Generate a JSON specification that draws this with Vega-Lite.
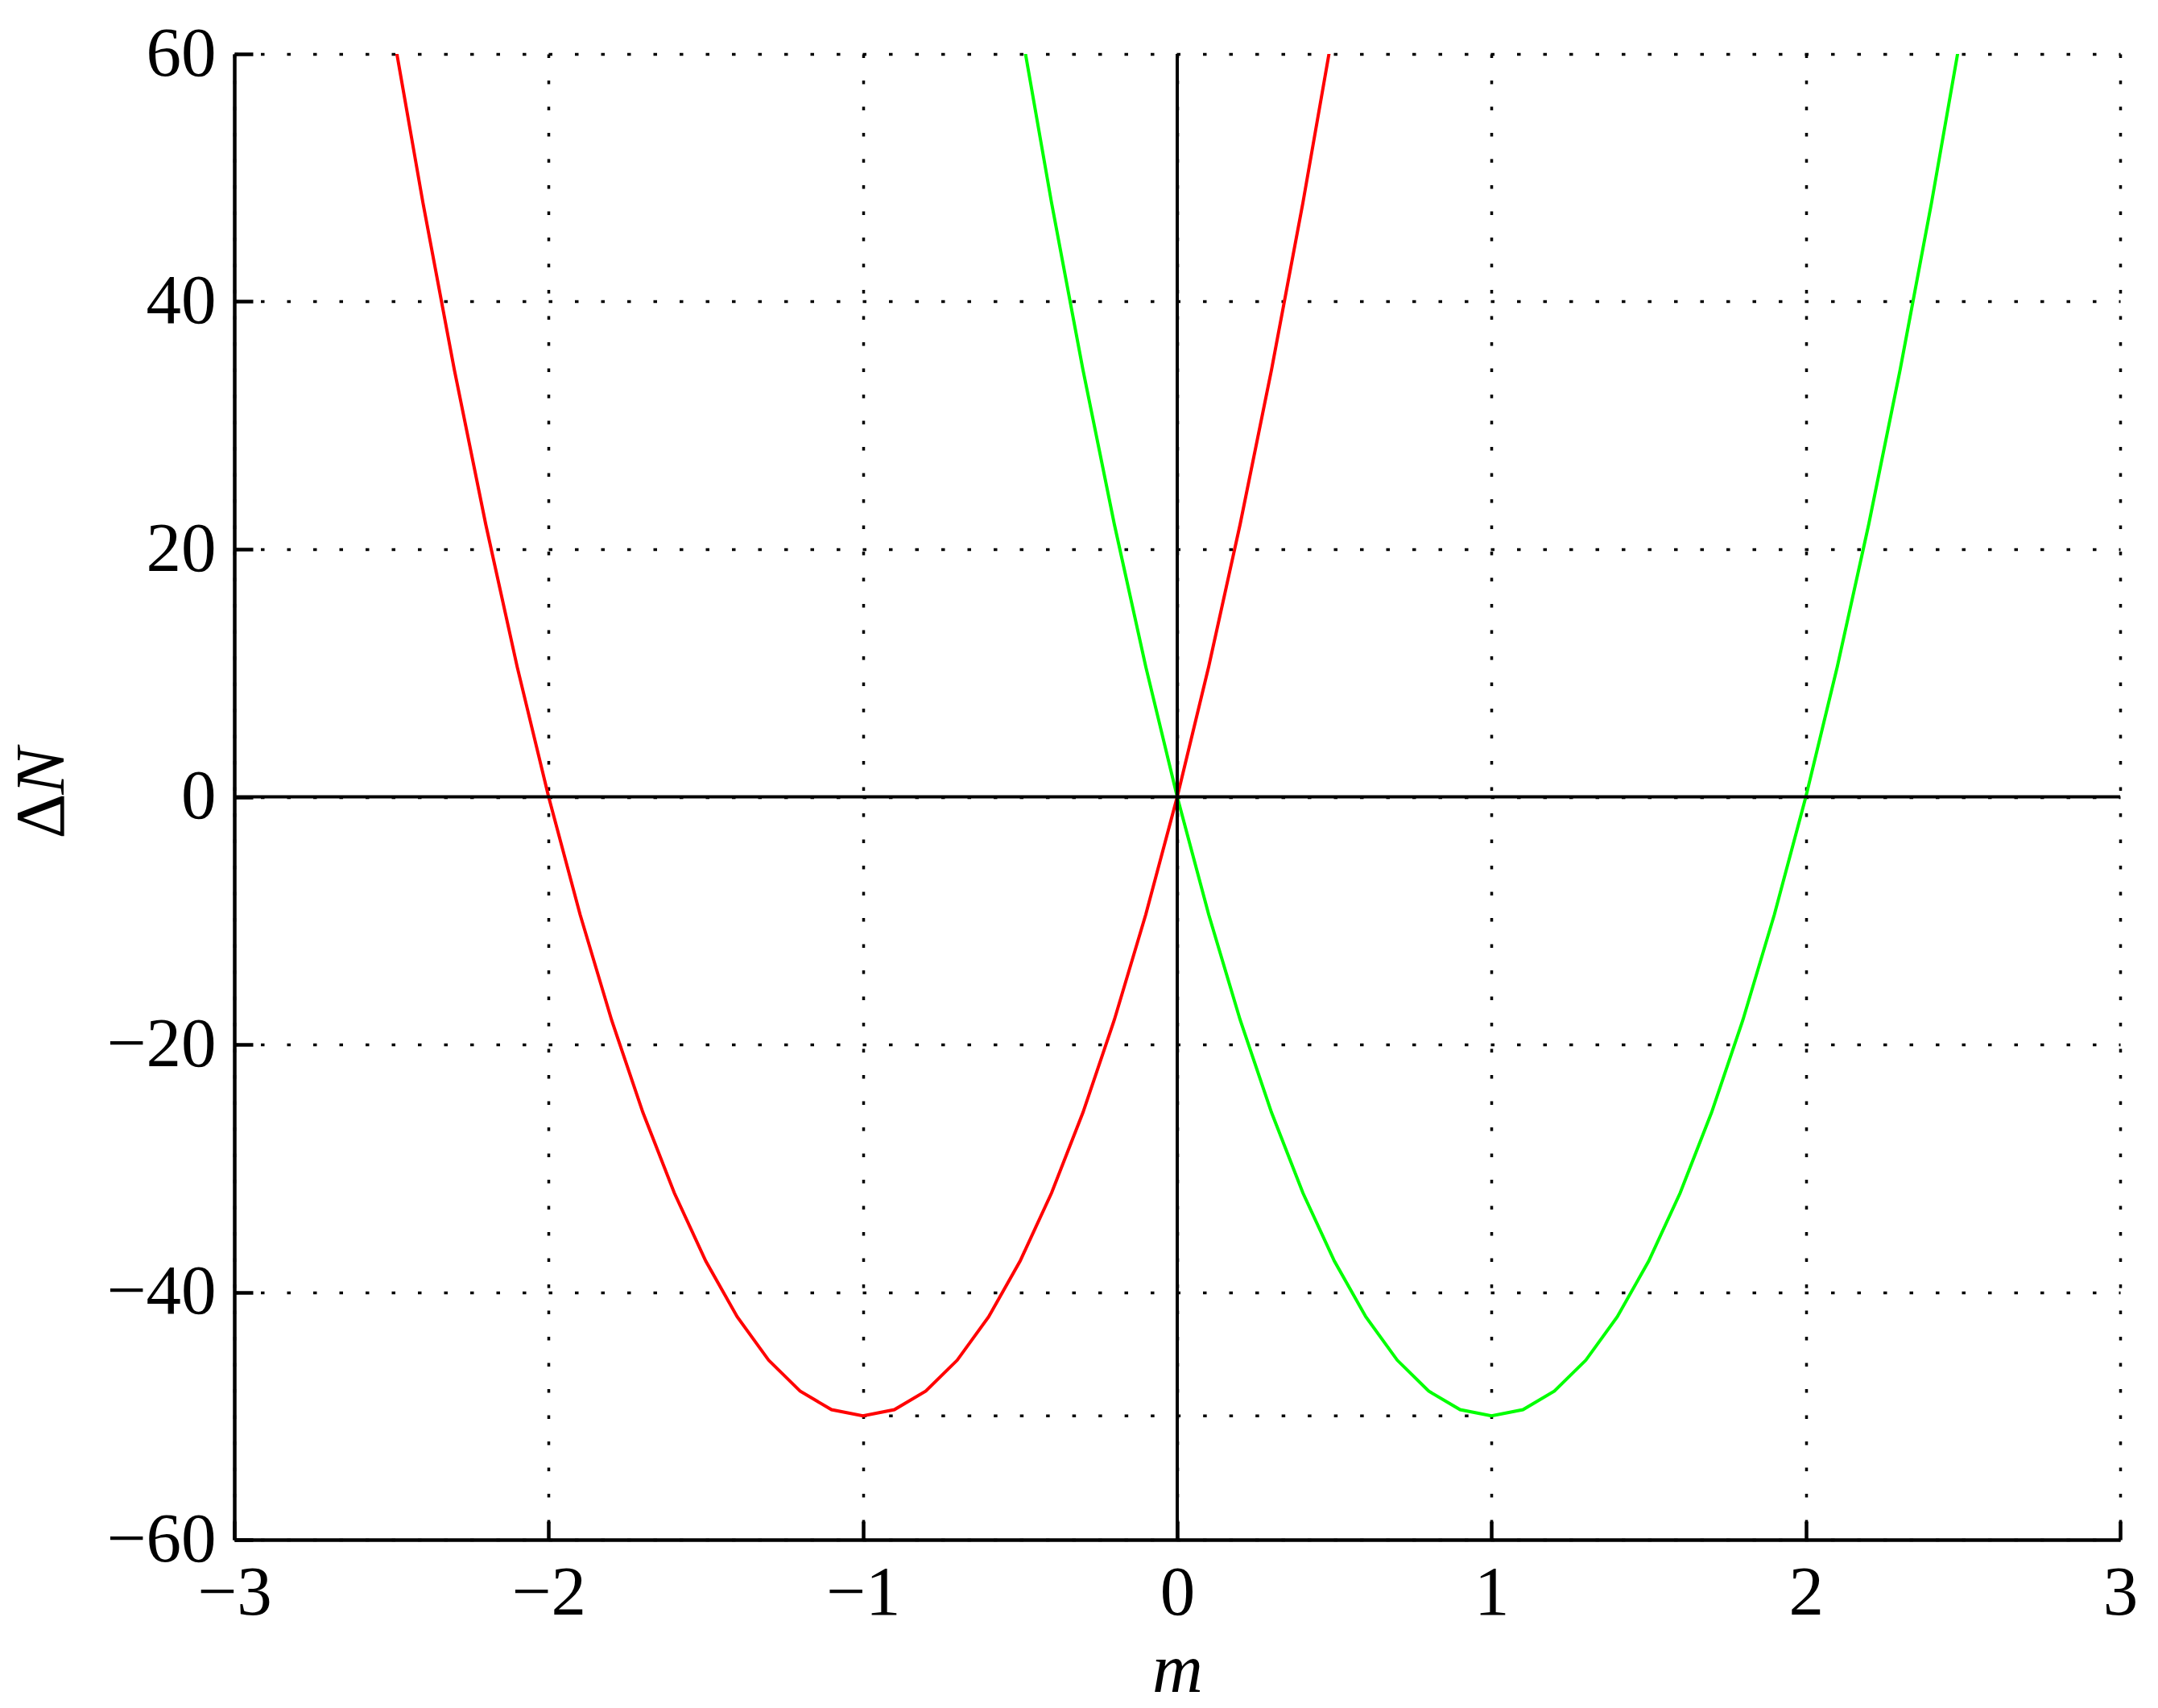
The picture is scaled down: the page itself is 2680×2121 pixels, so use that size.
{
  "$schema": "https://vega.github.io/schema/vega-lite/v6.json",
  "width": 2342,
  "height": 1845,
  "autosize": {"type": "none"},
  "padding": {"left": 291, "top": 67, "right": 47, "bottom": 209},
  "background": "white",
  "view": {"stroke": null},
  "config": {
    "font": "Liberation Serif",
    "axis": {
      "labelFont": "Liberation Serif",
      "labelFontSize": 87,
      "labelColor": "black",
      "titleFont": "Liberation Serif",
      "titleFontSize": 87,
      "titleFontWeight": "normal",
      "titleColor": "black",
      "domainColor": "black",
      "domainWidth": 4.5,
      "tickColor": "black",
      "tickWidth": 4.5,
      "tickSize": -23,
      "grid": true,
      "gridColor": "black",
      "gridWidth": 3.5,
      "gridDash": [4.5, 28],
      "gridOpacity": 1,
      "labelFlush": false,
      "labelOverlap": false
    }
  },
  "datasets": {
    "curves": [
      {"series": "red", "m": -2.5, "N": 62.5},
      {"series": "red", "m": -2.4, "N": 48},
      {"series": "red", "m": -2.3, "N": 34.5},
      {"series": "red", "m": -2.2, "N": 22},
      {"series": "red", "m": -2.1, "N": 10.5},
      {"series": "red", "m": -2.0, "N": 0},
      {"series": "red", "m": -1.9, "N": -9.5},
      {"series": "red", "m": -1.8, "N": -18},
      {"series": "red", "m": -1.7, "N": -25.5},
      {"series": "red", "m": -1.6, "N": -32},
      {"series": "red", "m": -1.5, "N": -37.5},
      {"series": "red", "m": -1.4, "N": -42},
      {"series": "red", "m": -1.3, "N": -45.5},
      {"series": "red", "m": -1.2, "N": -48},
      {"series": "red", "m": -1.1, "N": -49.5},
      {"series": "red", "m": -1.0, "N": -50},
      {"series": "red", "m": -0.9, "N": -49.5},
      {"series": "red", "m": -0.8, "N": -48},
      {"series": "red", "m": -0.7, "N": -45.5},
      {"series": "red", "m": -0.6, "N": -42},
      {"series": "red", "m": -0.5, "N": -37.5},
      {"series": "red", "m": -0.4, "N": -32},
      {"series": "red", "m": -0.3, "N": -25.5},
      {"series": "red", "m": -0.2, "N": -18},
      {"series": "red", "m": -0.1, "N": -9.5},
      {"series": "red", "m": 0.0, "N": 0},
      {"series": "red", "m": 0.1, "N": 10.5},
      {"series": "red", "m": 0.2, "N": 22},
      {"series": "red", "m": 0.3, "N": 34.5},
      {"series": "red", "m": 0.4, "N": 48},
      {"series": "red", "m": 0.5, "N": 62.5},
      {"series": "green", "m": -0.5, "N": 62.5},
      {"series": "green", "m": -0.4, "N": 48},
      {"series": "green", "m": -0.3, "N": 34.5},
      {"series": "green", "m": -0.2, "N": 22},
      {"series": "green", "m": -0.1, "N": 10.5},
      {"series": "green", "m": 0.0, "N": 0},
      {"series": "green", "m": 0.1, "N": -9.5},
      {"series": "green", "m": 0.2, "N": -18},
      {"series": "green", "m": 0.3, "N": -25.5},
      {"series": "green", "m": 0.4, "N": -32},
      {"series": "green", "m": 0.5, "N": -37.5},
      {"series": "green", "m": 0.6, "N": -42},
      {"series": "green", "m": 0.7, "N": -45.5},
      {"series": "green", "m": 0.8, "N": -48},
      {"series": "green", "m": 0.9, "N": -49.5},
      {"series": "green", "m": 1.0, "N": -50},
      {"series": "green", "m": 1.1, "N": -49.5},
      {"series": "green", "m": 1.2, "N": -48},
      {"series": "green", "m": 1.3, "N": -45.5},
      {"series": "green", "m": 1.4, "N": -42},
      {"series": "green", "m": 1.5, "N": -37.5},
      {"series": "green", "m": 1.6, "N": -32},
      {"series": "green", "m": 1.7, "N": -25.5},
      {"series": "green", "m": 1.8, "N": -18},
      {"series": "green", "m": 1.9, "N": -9.5},
      {"series": "green", "m": 2.0, "N": 0},
      {"series": "green", "m": 2.1, "N": 10.5},
      {"series": "green", "m": 2.2, "N": 22},
      {"series": "green", "m": 2.3, "N": 34.5},
      {"series": "green", "m": 2.4, "N": 48},
      {"series": "green", "m": 2.5, "N": 62.5}
    ],
    "minline": [
      {"m": -1, "N": -50},
      {"m": 1, "N": -50}
    ]
  },
  "resolve": {"scale": {"y": "independent"}, "axis": {"y": "independent"}},
  "layer": [
    {
      "layer": [
        {
          "data": {"name": "minline"},
          "mark": {"type": "line", "color": "black", "strokeWidth": 3.5, "strokeDash": [4.5, 28], "clip": true},
          "encoding": {
            "x": {
              "field": "m", "type": "quantitative",
              "scale": {"domain": [-3, 3], "nice": false, "zero": false},
              "axis": {
                "values": [-3, -2, -1, 0, 1, 2, 3],
                "format": "d",
                "labelPadding": 46,
                "title": "m",
                "titleFontStyle": "italic",
                "titleX": 1171,
                "titleY": 188,
                "titleAlign": "center",
                "titleBaseline": "alphabetic"
              }
            },
            "y": {
              "field": "N", "type": "quantitative",
              "scale": {"domain": [-60, 60], "nice": false, "zero": false},
              "axis": {
                "orient": "left",
                "values": [-60, -40, -20, 0, 20, 40, 60],
                "format": "d",
                "labelPadding": 46,
                "title": "Δ",
                "titleFontStyle": "normal",
                "titleAngle": -90,
                "titleX": -213,
                "titleY": 946,
                "titleAlign": "center",
                "titleBaseline": "alphabetic"
              }
            }
          }
        },
        {
          "data": {"name": "curves"},
          "mark": {"type": "line", "strokeWidth": 4, "clip": true},
          "encoding": {
            "x": {"field": "m", "type": "quantitative"},
            "y": {"field": "N", "type": "quantitative"},
            "color": {
              "field": "series", "type": "nominal",
              "scale": {"domain": ["red", "green"], "range": ["#ff0000", "#00ff00"]},
              "legend": null
            }
          }
        },
        {
          "data": {"values": [{}]},
          "mark": {"type": "rule", "color": "black", "strokeWidth": 4},
          "encoding": {"x": {"datum": 0}}
        }
      ]
    },
    {
      "data": {"values": [{"N": 0}]},
      "mark": {"type": "rule", "color": "black", "strokeWidth": 4},
      "encoding": {
        "y": {
          "field": "N", "type": "quantitative",
          "scale": {"domain": [-60, 60], "nice": false, "zero": false},
          "axis": {
            "orient": "left",
            "labels": false,
            "ticks": false,
            "domain": false,
            "grid": false,
            "title": "N",
            "titleFontStyle": "italic",
            "titleAngle": -90,
            "titleX": -213,
            "titleY": 890,
            "titleAlign": "center",
            "titleBaseline": "alphabetic"
          }
        }
      }
    }
  ]
}
